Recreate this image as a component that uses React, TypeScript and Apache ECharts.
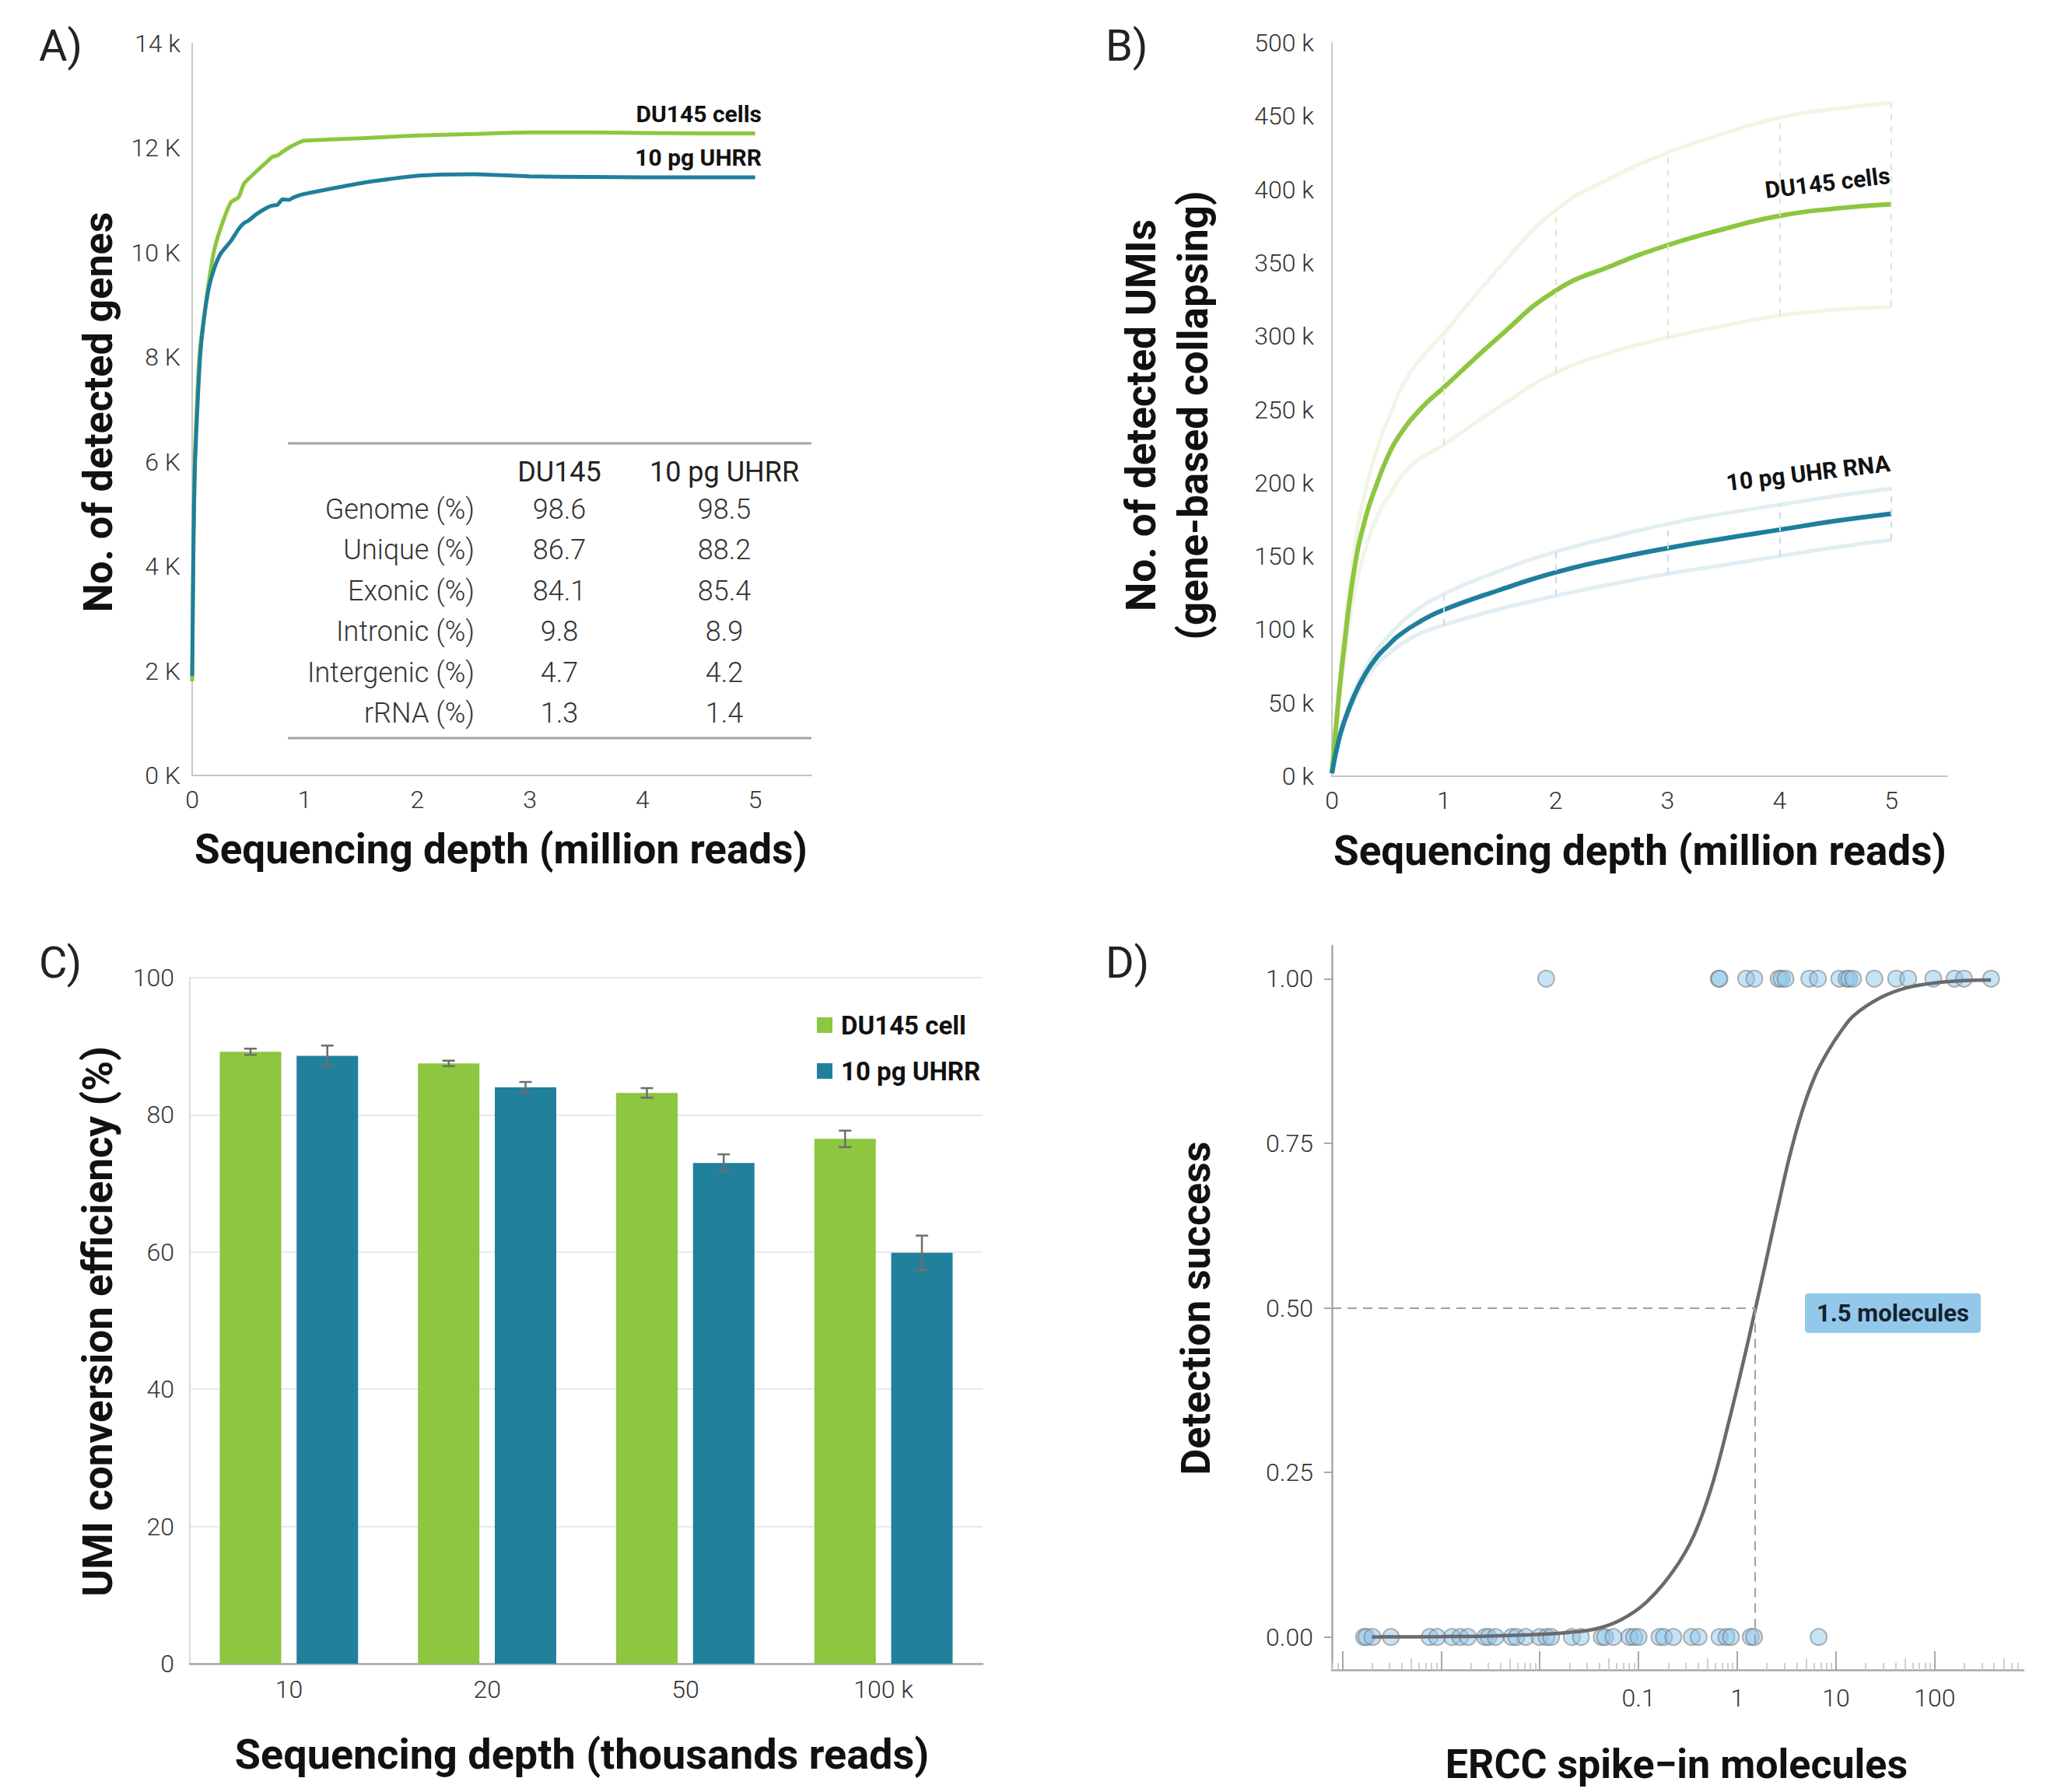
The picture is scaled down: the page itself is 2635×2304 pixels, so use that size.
import React, { useEffect, useRef } from 'react';
import * as echarts from 'echarts';

const W = 2635;
const H = 2304;
const GREEN = '#8dc63f';
const TEAL = '#1f7f9b';
const FONT = 'Roboto';

// ---------- Panel A: detected genes vs depth (million reads) ----------
const aDepth = [0, 0.005, 0.012, 0.024, 0.048, 0.072, 0.1, 0.145, 0.193, 0.25, 0.343, 0.412, 0.458, 0.504, 0.573, 0.665, 0.711, 0.757, 0.803, 0.861, 0.895, 0.941, 0.988, 1.5, 2.0, 2.5, 3.0, 3.5, 4.0, 4.5, 5.0];
const aDU145 = [1800, 3000, 4600, 6100, 7400, 8200, 8700, 9400, 10020, 10450, 10960, 11060, 11310, 11420, 11560, 11740, 11830, 11860, 11930, 12010, 12050, 12100, 12140, 12190, 12240, 12270, 12300, 12300, 12290, 12280, 12280];
const aUHRR = [1900, 3000, 4500, 5900, 7100, 8050, 8650, 9300, 9680, 9970, 10220, 10450, 10560, 10620, 10740, 10860, 10900, 10915, 11020, 11010, 11050, 11090, 11120, 11330, 11470, 11500, 11460, 11450, 11440, 11440, 11440];
const aTableCols = ['DU145', '10 pg UHRR'];
const aTableRows = ['Genome (%)', 'Unique (%)', 'Exonic (%)', 'Intronic (%)', 'Intergenic (%)', 'rRNA (%)'];
const aTableDU145 = ['98.6', '86.7', '84.1', '9.8', '4.7', '1.3'];
const aTableUHRR = ['98.5', '88.2', '85.4', '8.9', '4.2', '1.4'];

// ---------- Panel B: detected UMIs (thousands) ----------
const bMainDepth = [0, 0.05, 0.1, 0.2, 0.3, 0.4, 0.5, 0.6, 0.8, 1, 1.5, 2, 2.5, 3, 3.5, 4, 4.5, 5];
const bDU145 = [2, 45, 82, 141, 176, 199, 218, 232, 251, 265, 300, 331, 348, 362, 373, 382, 387, 390];
const bUHR = [2, 21, 35, 55, 70, 81, 89, 96, 106, 113.5, 127, 139, 148, 155.5, 162, 168, 174, 179];
const bBandDepth = [0, 0.05, 0.1, 0.2, 0.3, 0.4, 0.5, 0.7, 1, 1.5, 2, 2.5, 3, 3.5, 4, 4.5, 5];
const bDU145Upper = [2, 50, 90, 155, 195, 222, 243, 275, 302, 347, 386, 408, 425, 438, 449, 455, 459];
const bDU145Lower = [2, 40, 72, 125, 155, 176, 190, 211, 226, 252, 275, 289, 299, 307, 314, 318, 320];
const bUHRUpper = [2, 22, 37, 58, 74, 86, 95, 110, 124, 140, 153, 163, 172, 179, 185, 191, 196];
const bUHRLower = [2, 20, 33, 52, 66, 76, 83, 94, 103, 114, 123, 131, 138, 144, 150, 156, 161];
const bErrDepths = [1, 2, 3, 4, 5];

// ---------- Panel C: UMI conversion efficiency ----------
const cCategories = ['10', '20', '50', '100 k'];
const cDU145 = [89.2, 87.5, 83.2, 76.5];
const cDU145Err = [0.45, 0.4, 0.7, 1.2];
const cUHRR = [88.6, 84.0, 73.0, 59.9];
const cUHRRErr = [1.5, 0.8, 1.25, 2.5];

// ---------- Panel D: detection success vs ERCC molecules ----------
const dDetected = [0.0116, 0.65, 0.66, 1.23, 1.49, 2.62, 2.81, 3.08, 5.37, 6.56, 10.8, 12.8, 13.6, 14.9, 24.5, 40.7, 53.8, 96.8, 159, 198, 372];
const dMissed = [0.000166, 0.000175, 0.000202, 0.00031, 0.000766, 0.00091, 0.00129, 0.00156, 0.00187, 0.00279, 0.00303, 0.00356, 0.0052, 0.00579, 0.00719, 0.00993, 0.0117, 0.013, 0.0211, 0.0261, 0.0424, 0.0457, 0.0556, 0.0809, 0.0902, 0.1, 0.163, 0.181, 0.225, 0.346, 0.406, 0.661, 0.776, 0.863, 1.37, 1.48, 6.67];
const dCurveLog10 = [-3.7, -3.0, -2.5, -2.0, -1.7, -1.44, -1.18, -0.92, -0.65, -0.44, -0.26, -0.08, 0.08, 0.186, 0.29, 0.4, 0.53, 0.66, 0.79, 0.92, 1.05, 1.18, 1.45, 1.71, 1.97, 2.3, 2.57];
const dCurveP = [0.0, 0.0006, 0.0015, 0.004, 0.007, 0.012, 0.026, 0.053, 0.1, 0.154, 0.228, 0.33, 0.43, 0.5, 0.57, 0.645, 0.73, 0.8, 0.853, 0.89, 0.92, 0.944, 0.971, 0.986, 0.993, 0.997, 0.998];
const dThreshold = 1.5;
const dYTicks = [0, 0.25, 0.5, 0.75, 1];
const dXLabelDecades = [-1, 0, 1, 2];
const dXMin = -4.106;
const dXMax = 2.9;

const tickFont = { fontFamily: FONT, fontWeight: 300, fontSize: 32, color: '#333' };

function txt(text: string, x: number, y: number, o: any = {}) {
  return {
    type: 'text',
    x,
    y,
    rotation: o.rotation || 0,
    silent: true,
    style: {
      text,
      fill: o.color || '#111',
      fontSize: o.size || 48,
      fontFamily: FONT,
      fontWeight: o.weight || 'bold',
      align: o.align || 'center',
      verticalAlign: 'middle',
    },
  };
}

function hline(x1: number, x2: number, y: number) {
  return { type: 'line', silent: true, shape: { x1, y1: y, x2, y2: y }, style: { stroke: '#a3a3a3', lineWidth: 3 } };
}

export default function App() {
  const ref = useRef<HTMLDivElement>(null);
  useEffect(() => {
    document.body.style.margin = '0';
    const chart = echarts.init(ref.current!, null, { renderer: 'svg', width: W, height: H });

    const majors: number[] = [];
    const minors: number[] = [];
    const mids: number[] = [];
    for (let d = -5; d <= 2; d++) {
      if (d >= dXMin && d <= dXMax) majors.push(d);
      for (const m of [2, 3, 4, 6, 7, 8, 9]) {
        const v = d + Math.log10(m);
        if (v >= dXMin && v <= dXMax) minors.push(v);
      }
      const v5 = d + Math.log10(5);
      if (v5 >= dXMin && v5 <= dXMax) mids.push(v5);
    }

    const barW = 79;
    const barGapPct = 0.25;
    const errOffset = (barW + barW * barGapPct) / 2;
    const errSeries = (vals: number[], errs: number[], sign: number, name: string) => ({
      type: 'custom',
      name,
      xAxisIndex: 2,
      yAxisIndex: 2,
      silent: true,
      z: 5,
      data: vals.map((v, i) => [i, v - errs[i], v + errs[i]]),
      renderItem: (params: any, api: any) => {
        const lo = api.coord([api.value(0), api.value(1)]);
        const hi = api.coord([api.value(0), api.value(2)]);
        const x = lo[0] + sign * errOffset;
        const cap = 8;
        const st = { stroke: '#6e6e6e', lineWidth: 2.5 };
        return {
          type: 'group',
          children: [
            { type: 'line', shape: { x1: x, y1: lo[1], x2: x, y2: hi[1] }, style: st },
            { type: 'line', shape: { x1: x - cap, y1: lo[1], x2: x + cap, y2: lo[1] }, style: st },
            { type: 'line', shape: { x1: x - cap, y1: hi[1], x2: x + cap, y2: hi[1] }, style: st },
          ],
        };
      },
    });

    const bandErr = (upper: number[], lower: number[]) =>
      bErrDepths.map((x) => {
        const i = bBandDepth.indexOf(x);
        return [{ coord: [x, lower[i]] }, { coord: [x, upper[i]] }];
      });

    const bandLine = (name: string, ys: number[], color: string, errColor: string, err: any) => ({
      type: 'line',
      name,
      xAxisIndex: 1,
      yAxisIndex: 1,
      data: bBandDepth.map((x, i) => [x, ys[i]]),
      symbol: 'none',
      smooth: true,
      silent: true,
      z: 1,
      lineStyle: { color, width: 5 },
      itemStyle: { color },
      markLine: err
        ? { silent: true, symbol: ['none', 'none'], label: { show: false }, lineStyle: { color: errColor, width: 2, type: [8, 8] }, data: err }
        : undefined,
    });

    const intLabel = (v: number) => (Number.isInteger(v) ? String(v) : '');

    const option: any = {
      animation: false,
      backgroundColor: '#ffffff',
      textStyle: { fontFamily: FONT },
      grid: [
        { left: 247, top: 56, width: 796, height: 941 },
        { left: 1712, top: 55, width: 791, height: 943 },
        { left: 244, top: 1257, width: 1019, height: 882 },
        { left: 1712, top: 1216, width: 889, height: 931 },
      ],
      legend: {
        data: ['DU145 cell', '10 pg UHRR'],
        orient: 'vertical',
        left: 1045,
        top: 1296,
        icon: 'rect',
        itemWidth: 20,
        itemHeight: 20,
        itemGap: 25,
        selectedMode: false,
        textStyle: { fontFamily: FONT, fontWeight: 'bold', fontSize: 33, color: '#111', lineHeight: 34, padding: [0, 0, 0, 6] },
      },
      xAxis: [
        {
          gridIndex: 0, type: 'value', min: 0, max: 5.5,
          axisLine: { show: true, onZero: false, lineStyle: { color: '#c4c4c4', width: 2 } },
          axisTick: { show: false }, splitLine: { show: false },
          axisLabel: { ...tickFont, margin: 15, customValues: [0, 1, 2, 3, 4, 5], formatter: intLabel },
        },
        {
          gridIndex: 1, type: 'value', min: 0, max: 5.5,
          axisLine: { show: true, onZero: false, lineStyle: { color: '#c4c4c4', width: 2 } },
          axisTick: { show: false }, splitLine: { show: false },
          axisLabel: { ...tickFont, margin: 15, customValues: [0, 1, 2, 3, 4, 5], formatter: intLabel },
        },
        {
          gridIndex: 2, type: 'category', data: cCategories,
          axisLine: { show: true, lineStyle: { color: '#a8a8a8', width: 2.5 } },
          axisTick: { show: false }, splitLine: { show: false },
          axisLabel: { ...tickFont, margin: 17 },
        },
        {
          gridIndex: 3, type: 'value', min: dXMin, max: dXMax, position: 'bottom', offset: 0,
          axisLine: { show: true, onZero: false, lineStyle: { color: '#a8a8a8', width: 2.5 } },
          axisTick: { show: true, inside: true, length: 24, customValues: majors, lineStyle: { color: '#a8a8a8', width: 2 } },
          splitLine: { show: false },
          axisLabel: {
            ...tickFont, margin: 20, customValues: dXLabelDecades,
            formatter: (v: number) => (Number.isInteger(v) && v >= -1 ? String(Number(Math.pow(10, v).toPrecision(1))) : ''),
          },
        },
        {
          gridIndex: 3, type: 'value', min: dXMin, max: dXMax, position: 'bottom', offset: 0,
          axisLine: { show: false, onZero: false },
          axisTick: { show: true, inside: true, length: 9, customValues: minors, lineStyle: { color: '#cfcfcf', width: 2 } },
          splitLine: { show: false }, axisLabel: { show: false },
        },
        {
          gridIndex: 3, type: 'value', min: dXMin, max: dXMax, position: 'bottom', offset: 0,
          axisLine: { show: false, onZero: false },
          axisTick: { show: true, inside: true, length: 15, customValues: mids, lineStyle: { color: '#cfcfcf', width: 2 } },
          splitLine: { show: false }, axisLabel: { show: false },
        },
      ],
      yAxis: [
        {
          gridIndex: 0, type: 'value', min: 0, max: 14000, interval: 2000,
          axisLine: { show: true, onZero: false, lineStyle: { color: '#c8c8c8', width: 2 } },
          axisTick: { show: false }, splitLine: { show: false },
          axisLabel: { ...tickFont, margin: 15, formatter: (v: number) => (v === 14000 ? '14 k' : `${v / 1000} K`) },
        },
        {
          gridIndex: 1, type: 'value', min: 0, max: 500, interval: 50,
          axisLine: { show: true, onZero: false, lineStyle: { color: '#c8c8c8', width: 2 } },
          axisTick: { show: false }, splitLine: { show: false },
          axisLabel: { ...tickFont, margin: 23, formatter: (v: number) => `${v} k` },
        },
        {
          gridIndex: 2, type: 'value', min: 0, max: 100, interval: 20,
          axisLine: { show: true, lineStyle: { color: '#dcdcdc', width: 2 } },
          axisTick: { show: false },
          splitLine: { show: true, lineStyle: { color: '#e8e8e8', width: 2 } },
          axisLabel: { ...tickFont, margin: 20 },
        },
        {
          gridIndex: 3, type: 'value', min: -0.05, max: 1.05,
          axisLine: { show: true, onZero: false, lineStyle: { color: '#a8a8a8', width: 2.5 } },
          axisTick: { show: true, length: 10, customValues: dYTicks, lineStyle: { color: '#a8a8a8', width: 2 } },
          splitLine: { show: false },
          axisLabel: { ...tickFont, margin: 24, customValues: dYTicks, formatter: (v: number) => v.toFixed(2) },
        },
      ],
      series: [
        // Panel A
        {
          type: 'line', name: 'genes DU145', xAxisIndex: 0, yAxisIndex: 0,
          data: aDepth.map((x, i) => [x, aDU145[i]]), symbol: 'none', smooth: 0.2, silent: true,
          lineStyle: { color: GREEN, width: 5 }, itemStyle: { color: GREEN },
        },
        {
          type: 'line', name: 'genes UHRR', xAxisIndex: 0, yAxisIndex: 0,
          data: aDepth.map((x, i) => [x, aUHRR[i]]), symbol: 'none', smooth: 0.2, silent: true,
          lineStyle: { color: TEAL, width: 5 }, itemStyle: { color: TEAL },
        },
        // Panel B bands
        bandLine('DU145 upper', bDU145Upper, '#eef6e5', '#dbe9cb', bandErr(bDU145Upper, bDU145Lower)),
        bandLine('DU145 lower', bDU145Lower, '#eef6e5', '#dbe9cb', null),
        bandLine('UHR upper', bUHRUpper, '#e2eef3', '#c6dde6', bandErr(bUHRUpper, bUHRLower)),
        bandLine('UHR lower', bUHRLower, '#e2eef3', '#c6dde6', null),
        {
          type: 'line', name: 'UMIs DU145', xAxisIndex: 1, yAxisIndex: 1,
          data: bMainDepth.map((x, i) => [x, bDU145[i]]), symbol: 'none', smooth: true, silent: true, z: 3,
          lineStyle: { color: GREEN, width: 6 }, itemStyle: { color: GREEN },
        },
        {
          type: 'line', name: 'UMIs UHR', xAxisIndex: 1, yAxisIndex: 1,
          data: bMainDepth.map((x, i) => [x, bUHR[i]]), symbol: 'none', smooth: true, silent: true, z: 3,
          lineStyle: { color: TEAL, width: 6 }, itemStyle: { color: TEAL },
        },
        // Panel C
        {
          type: 'bar', name: 'DU145 cell', xAxisIndex: 2, yAxisIndex: 2, data: cDU145,
          barWidth: barW, barGap: `${barGapPct * 100}%`, itemStyle: { color: GREEN }, silent: true,
        },
        {
          type: 'bar', name: '10 pg UHRR', xAxisIndex: 2, yAxisIndex: 2, data: cUHRR,
          barWidth: barW, barGap: `${barGapPct * 100}%`, itemStyle: { color: '#21809c' }, silent: true,
        },
        errSeries(cDU145, cDU145Err, -1, 'err DU145'),
        errSeries(cUHRR, cUHRRErr, 1, 'err UHRR'),
        // Panel D
        {
          type: 'scatter', name: 'missed', xAxisIndex: 3, yAxisIndex: 3,
          data: dMissed.map((m) => [Math.log10(m), 0]), symbolSize: 21, silent: true,
          itemStyle: { color: 'rgba(140,198,236,0.62)', borderColor: 'rgba(120,120,120,0.7)', borderWidth: 2 },
        },
        {
          type: 'scatter', name: 'detected', xAxisIndex: 3, yAxisIndex: 3,
          data: dDetected.map((m) => [Math.log10(m), 1]), symbolSize: 21, silent: true,
          itemStyle: { color: 'rgba(140,198,236,0.62)', borderColor: 'rgba(120,120,120,0.7)', borderWidth: 2 },
        },
        {
          type: 'line', name: 'fit', xAxisIndex: 3, yAxisIndex: 3,
          data: dCurveLog10.map((x, i) => [x, dCurveP[i]]), symbol: 'none', smooth: 0.35, silent: true, z: 4,
          lineStyle: { color: '#6a6a6e', width: 4.5 }, itemStyle: { color: '#6a6a6e' },
          markLine: {
            silent: true, symbol: ['none', 'none'], label: { show: false },
            lineStyle: { color: '#a0a0a0', width: 2, type: [12, 8] },
            data: [
              [{ coord: [dXMin, 0.5] }, { coord: [Math.log10(dThreshold), 0.5] }],
              [{ coord: [Math.log10(dThreshold), 0.5] }, { coord: [Math.log10(dThreshold), -0.01] }],
            ],
          },
          markPoint: {
            silent: true,
            symbol: 'path://M5,0 H221 Q226,0 226,5 V46 Q226,51 221,51 H5 Q0,51 0,46 V5 Q0,0 5,0 Z',
            symbolKeepAspect: false,
            symbolSize: [226, 51],
            itemStyle: { color: '#93c8eb' },
            label: {
              show: true, position: 'inside', formatter: `${dThreshold} molecules`,
              fontFamily: FONT, fontWeight: 'bold', fontSize: 31, color: '#15222e',
            },
            data: [{ coord: [1.576, 0.492] }],
          },
        },
      ],
      graphic: [
        // panel letters
        txt('A)', 50, 59, { align: 'left', weight: 'normal', size: 56, color: '#222' }),
        txt('B)', 1421, 59, { align: 'left', weight: 'normal', size: 56, color: '#222' }),
        txt('C)', 50, 1238, { align: 'left', weight: 'normal', size: 56, color: '#222' }),
        txt('D)', 1421, 1238, { align: 'left', weight: 'normal', size: 56, color: '#222' }),
        // axis titles
        txt('Sequencing depth (million reads)', 644, 1092, { size: 53 }),
        txt('No. of detected genes', 126, 530, { size: 52, rotation: Math.PI / 2 }),
        txt('Sequencing depth (million reads)', 2108, 1094, { size: 53 }),
        txt('No. of detected UMIs', 1467, 534, { size: 53, rotation: Math.PI / 2 }),
        txt('(gene-based collapsing)', 1534, 534, { size: 53, rotation: Math.PI / 2 }),
        txt('Sequencing depth (thousands reads)', 748, 2255, { size: 54 }),
        txt('UMI conversion efficiency (%)', 126, 1699, { size: 53, rotation: Math.PI / 2 }),
        txt('ERCC spike\u2212in molecules', 2155, 2268, { size: 52 }),
        txt('Detection success', 1537, 1682, { size: 52, rotation: Math.PI / 2 }),
        // curve labels
        txt('DU145 cells', 979, 146, { size: 30, align: 'right' }),
        txt('10 pg UHRR', 979, 202, { size: 30, align: 'right' }),
        txt('DU145 cells', 2349, 235, { size: 30, rotation: 0.12 }),
        txt('10 pg UHR RNA', 2324, 608, { size: 30, rotation: 0.12 }),
        // table
        hline(370, 1043, 570),
        hline(370, 1043, 949),
        txt(aTableCols[0], 719, 607, { size: 36, weight: 'normal', color: '#222' }),
        txt(aTableCols[1], 931, 607, { size: 36, weight: 'normal', color: '#222' }),
        ...aTableRows.map((r, i) => txt(r, 610, 655 + i * 52.4, { size: 36, weight: 300, align: 'right', color: '#333' })),
        ...aTableDU145.map((v, i) => txt(v, 719, 655 + i * 52.4, { size: 36, weight: 300, color: '#333' })),
        ...aTableUHRR.map((v, i) => txt(v, 931, 655 + i * 52.4, { size: 36, weight: 300, color: '#333' })),
      ],
    };

    chart.setOption(option);
    return () => chart.dispose();
  }, []);

  return <div ref={ref} style={{ width: W, height: H, overflow: 'hidden' }} />;
}
